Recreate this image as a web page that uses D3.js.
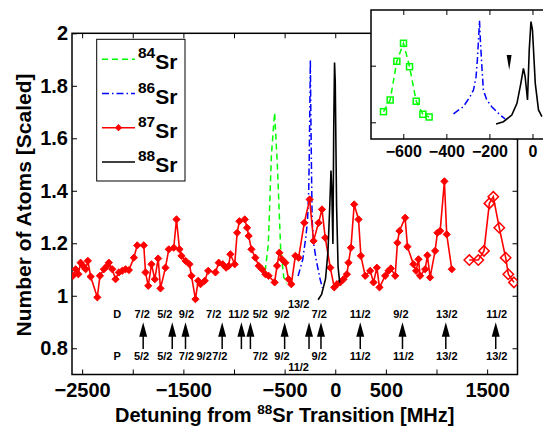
<!DOCTYPE html>
<html><head><meta charset="utf-8">
<script src="https://cdn.jsdelivr.net/npm/d3@7"></script>
<style>
body{margin:0;background:#fff}
text{font-family:"Liberation Sans",Arial,Helvetica,sans-serif;font-weight:bold;fill:#000}
</style>
</head><body>
<svg id="c" width="543" height="433"></svg>
<script>
// ---------- DATA ----------
// 87Sr (filled diamonds)
const sr87X = [-2591,-2564,-2537,-2515,-2492,-2465,-2443,-2416,-2350,-2324,-2285,-2252,-2236,-2202,-2170,-2137,-2104,-2071,-2038,-1989,-1956,-1891,-1874,-1847,-1815,-1782,-1749,-1726,-1677,-1644,-1595,-1568,-1538,-1519,-1479,-1440,-1420,-1381,-1354,-1331,-1289,-1255,-1183,-1151,-1111,-1078,-1052,-1036,-993,-969,-947,-894,-871,-855,-828,-789,-756,-723,-690,-658,-599,-575,-552,-526,-493,-461,-434,-394,-362,-306,-253,-214,-165,-131,-99,-49,-10,17,49,82,115,131,155,187,230,253,296,345,378,411,437,493,526,549,592,614,634,690,713,772,799,822,838,888,910,937,986,1009,1036,1078,1101,1151];
const sr87Y = [1.076,1.101,1.082,1.126,1.114,1.101,1.133,1.073,0.994,1.076,1.101,1.114,1.126,1.101,1.063,1.089,1.095,1.101,1.098,1.145,1.192,1.192,1.089,1.038,1.120,1.063,1.142,1.028,1.107,1.177,1.183,1.291,1.177,1.152,1.133,1.120,1.076,0.987,1.057,1.044,1.057,1.095,1.089,1.126,1.120,1.107,1.114,1.158,1.120,1.240,1.284,1.291,1.259,1.228,1.177,1.145,1.114,1.101,1.082,1.076,1.051,1.114,1.164,1.139,1.126,1.063,1.044,1.152,1.145,1.278,1.367,1.209,1.278,1.329,1.221,1.107,1.032,1.044,1.051,1.063,1.082,1.126,1.183,1.348,1.291,1.152,1.076,1.095,1.051,1.107,1.032,1.076,1.095,1.104,1.076,1.202,1.247,1.297,1.187,1.120,1.095,1.139,1.076,1.101,1.154,1.070,1.171,1.240,1.247,1.436,1.234,1.101];
// 87Sr (open diamonds)
const sr87bX = [1324,1413,1469,1522,1561,1620,1683,1709,1765];
const sr87bY = [1.136,1.136,1.171,1.352,1.377,1.259,1.145,1.082,1.051];
// 84Sr
const sr84X = [-692,-661,-630,-599,-571,-540,-509,-480];
const sr84Y = [1.094,1.197,1.539,1.698,1.491,1.186,1.071,1.047];
// 86Sr
const sr86X = [-367,-321,-290,-274,-262,-256,-249,-246,-242,-235,-228,-212,-189,-150,-127];
const sr86Y = [1.075,1.138,1.226,1.285,1.403,1.550,1.786,1.898,1.727,1.491,1.285,1.197,1.138,1.064,1.030];
// 88Sr
const sr88X = [-169,-135,-96,-72,-54,-42,-34,-23,-15,-7,0,13,28,44];
const sr88Y = [0.985,1.005,1.064,1.168,1.344,1.477,1.403,1.197,1.639,1.889,1.815,1.344,1.109,1.050];
// inset marker (wedge)
const wedgeX = [-120,-97,-108];
const wedgeY = [1.595,1.595,1.462];

// axis ticks
const xTicks = [-2500,-2000,-1500,-1000,-500,0,500,1000,1500];
const xTickLabels = [-2500,-1500,-500,0,500,1500];
const yTicks = [0.8,1,1.2,1.4,1.6,1.8,2];
const insetXTicks = [-600,-400,-200,0];
const insetYTicks = [1,1.5];

// transitions (arrows) and labels
const arrowX = [-1897,-1610,-1479,-1117,-927,-838,-500,-259,-141,247,664,1092,1585];
const dLabels = ["7/2","5/2","9/2","7/2","11/2","5/2","9/2","7/2","11/2","9/2","13/2","11/2"];
const dLabelX = [-1906,-1683,-1469,-1200,-954,-740,-526,-158,247,648,1102,1595];
const pLabels = ["5/2","5/2","7/2","9/2","7/2","7/2","9/2","9/2","11/2","11/2","13/2","13/2"];
const pLabelX = [-1913,-1683,-1469,-1295,-1140,-740,-526,-158,247,674,1102,1595];
const dExtra = {label:"13/2", x:-362};
const pExtra = {label:"11/2", x:-362};
const rowLabelX = -2153;

const legendNames = ["84","86","87","88"];

// ---------- CHART ----------
const svg = d3.select("#c");
const L=72, R=517.5, T=33.3, B=374.5;
const x = d3.scaleLinear().domain([-2600,1800]).range([L,R]);
const y = d3.scaleLinear().domain([0.7,2]).range([B,T]);

const FS = 20;
const fmt = d3.format("~g");

function styleAxis(g, fs){
  g.select(".domain").remove();
  g.selectAll(".tick line").attr("stroke","#000").attr("stroke-width",1);
  g.selectAll(".tick text").attr("font-size",fs).attr("font-family",null).attr("fill","#000");
  g.attr("font-family",null).attr("font-size",null);
}
svg.append("g").attr("transform",`translate(0,${B})`)
  .call(d3.axisBottom(x).tickValues(xTicks).tickSize(-5).tickPadding(8)
     .tickFormat(v => xTickLabels.includes(v) ? fmt(v) : ""))
  .call(g=>styleAxis(g,FS));
svg.append("g").attr("transform",`translate(0,${T})`)
  .call(d3.axisTop(x).tickValues(xTicks).tickSize(-5).tickFormat(""))
  .call(g=>styleAxis(g,FS));
svg.append("g").attr("transform",`translate(${L},0)`)
  .call(d3.axisLeft(y).tickValues(yTicks).tickSize(-5).tickPadding(4).tickFormat(fmt))
  .call(g=>styleAxis(g,FS));
svg.append("g").attr("transform",`translate(${R},0)`)
  .call(d3.axisRight(y).tickValues(yTicks).tickSize(-5).tickFormat(""))
  .call(g=>styleAxis(g,FS));
svg.append("rect").attr("x",L).attr("y",T).attr("width",R-L).attr("height",B-T)
  .attr("fill","none").attr("stroke","#000").attr("stroke-width",1.5);

// titles
const xt = svg.append("text").attr("x",(L+R)/2-10).attr("y",422).attr("text-anchor","middle").attr("font-size",FS);
xt.append("tspan").text("Detuning from ");
xt.append("tspan").attr("font-size",13.5).attr("dy",-8).text("88");
xt.append("tspan").attr("dy",8).text("Sr Transition [MHz]");
svg.append("text").attr("transform","translate(31,205) rotate(-90)").attr("text-anchor","middle")
  .attr("font-size",FS+1).text("Number of Atoms [Scaled]");

// data
svg.append("clipPath").attr("id","mc").append("rect")
  .attr("x",L).attr("y",T).attr("width",R-L).attr("height",B-T);
const plot = svg.append("g").attr("clip-path","url(#mc)");
const line = d3.line().x(d=>x(d[0])).y(d=>y(d[1]));
const zip = (a,b)=>a.map((v,i)=>[v,b[i]]);
const diamond = r => `M0,${-r}L${r},0L0,${r}L${-r},0Z`;

plot.append("path").datum(zip(sr84X,sr84Y)).attr("d",line).attr("fill","none")
  .attr("stroke","#00ff00").attr("stroke-width",1.5).attr("stroke-dasharray","6,4");
plot.append("path").datum(zip(sr86X,sr86Y)).attr("d",line).attr("fill","none")
  .attr("stroke","#0000ff").attr("stroke-width",1.5).attr("stroke-dasharray","7,3,1.5,3");
const red = zip(sr87X,sr87Y);
plot.append("path").datum(red).attr("d",line).attr("fill","none").attr("stroke","#ff0000").attr("stroke-width",1.6);
plot.selectAll(".rd").data(red).join("path").attr("d",diamond(3.6))
  .attr("transform",d=>`translate(${x(d[0])},${y(d[1])})`).attr("fill","#ff0000").attr("stroke","#ff0000").attr("stroke-width",1);
const red2 = zip(sr87bX,sr87bY);
plot.append("path").datum(red2).attr("d",line).attr("fill","none").attr("stroke","#ff0000").attr("stroke-width",1.6);
plot.selectAll(".ro").data(red2).join("path").attr("d",diamond(5.2))
  .attr("transform",d=>`translate(${x(d[0])},${y(d[1])})`).attr("fill","none").attr("stroke","#ff0000").attr("stroke-width",1.5);
plot.append("path").datum(zip(sr88X,sr88Y)).attr("d",line).attr("fill","none")
  .attr("stroke","#000").attr("stroke-width",1.6);

// annotations
const aFS = 11;
const yD = 0.915, yP = 0.757, yDx = 0.952, yPx = 0.715;
const aTop = 0.899, aHead = 0.848, aBot = 0.797;
const ann = svg.append("g");
ann.selectAll(".dl").data(dLabels).join("text").attr("x",(d,i)=>x(dLabelX[i])).attr("y",y(yD))
  .attr("text-anchor","middle").attr("font-size",aFS).text(d=>d);
ann.selectAll(".pl").data(pLabels).join("text").attr("x",(d,i)=>x(pLabelX[i])).attr("y",y(yP))
  .attr("text-anchor","middle").attr("font-size",aFS).text(d=>d);
ann.append("text").attr("x",x(dExtra.x)).attr("y",y(yDx)).attr("text-anchor","middle").attr("font-size",aFS).text(dExtra.label);
ann.append("text").attr("x",x(pExtra.x)).attr("y",y(yPx)).attr("text-anchor","middle").attr("font-size",aFS).text(pExtra.label);
ann.append("text").attr("x",x(rowLabelX)).attr("y",y(yD)).attr("text-anchor","middle").attr("font-size",aFS).text("D");
ann.append("text").attr("x",x(rowLabelX)).attr("y",y(yP)).attr("text-anchor","middle").attr("font-size",aFS).text("P");
ann.selectAll(".as").data(arrowX).join("line").attr("x1",d=>x(d)).attr("x2",d=>x(d))
  .attr("y1",y(aBot)).attr("y2",y(aHead)).attr("stroke","#000").attr("stroke-width",1.5);
ann.selectAll(".ah").data(arrowX).join("path")
  .attr("d",d=>`M${x(d)},${y(aTop)}L${x(d)+4},${y(aHead)+1}L${x(d)-4},${y(aHead)+1}Z`).attr("fill","#000");

// legend
const lg = svg.append("g");
lg.append("rect").attr("x",96.7).attr("y",39.3).attr("width",88.3).attr("height",141.7)
  .attr("fill","#fff").attr("stroke","#000").attr("stroke-width",1);
const styles = [
  {c:"#00ff00",dash:"6,4"},{c:"#0000ff",dash:"7,3,1.5,3"},{c:"#ff0000",dash:null,m:true},{c:"#000",dash:null}];
legendNames.forEach((n,i)=>{
  const ly = 59.3 + i*34.2;
  lg.append("line").attr("x1",102).attr("x2",135).attr("y1",ly).attr("y2",ly)
    .attr("stroke",styles[i].c).attr("stroke-width",1.5).attr("stroke-dasharray",styles[i].dash);
  if(styles[i].m) lg.append("path").attr("d",diamond(3.6)).attr("transform",`translate(118.5,${ly})`).attr("fill","#ff0000");
  const t = lg.append("text").attr("x",138).attr("y",ly-1);
  t.append("tspan").attr("font-size",15.5).text(n);
  t.append("tspan").attr("font-size",21).attr("dy",11).text("Sr");
});

// inset
const IL=371, IR=554, IT=10, IB=139;
const ix = d3.scaleLinear().domain([-750,100]).range([IL,IR]);
const iy = d3.scaleLinear().domain([0.8525,1.992]).range([IB,IT]);
const ins = svg.append("g");
ins.append("rect").attr("x",IL).attr("y",IT).attr("width",IR-IL).attr("height",IB-IT).attr("fill","#fff");
ins.append("g").attr("transform",`translate(0,${IB})`)
  .call(d3.axisBottom(ix).tickValues(insetXTicks).tickSize(-5).tickPadding(7).tickFormat(fmt))
  .call(g=>styleAxis(g,16));
ins.append("g").attr("transform",`translate(0,${IT})`)
  .call(d3.axisTop(ix).tickValues(insetXTicks).tickSize(-5).tickFormat(""))
  .call(g=>styleAxis(g,16));
ins.append("g").attr("transform",`translate(${IL},0)`)
  .call(d3.axisLeft(iy).tickValues(insetYTicks).tickSize(-5).tickFormat(""))
  .call(g=>styleAxis(g,16));
ins.append("clipPath").attr("id","ic").append("rect").attr("x",IL).attr("y",IT).attr("width",IR-IL).attr("height",IB-IT);
const ip = ins.append("g").attr("clip-path","url(#ic)");
const iline = d3.line().x(d=>ix(d[0])).y(d=>iy(d[1]));
const g84 = zip(sr84X,sr84Y);
ip.append("path").datum(g84).attr("d",iline).attr("fill","none").attr("stroke","#00ff00").attr("stroke-width",1.5).attr("stroke-dasharray","6,4");
ip.selectAll(".sq").data(g84).join("rect").attr("x",d=>ix(d[0])-3).attr("y",d=>iy(d[1])-3)
  .attr("width",6).attr("height",6).attr("fill","none").attr("stroke","#00ff00").attr("stroke-width",1.5);
ip.append("path").datum(zip(sr86X,sr86Y)).attr("d",iline).attr("fill","none").attr("stroke","#0000ff").attr("stroke-width",1.5).attr("stroke-dasharray","7,3,1.5,3");
ip.append("path").datum(zip(sr88X,sr88Y)).attr("d",iline).attr("fill","none").attr("stroke","#000").attr("stroke-width",1.6);
ip.append("path").datum(zip(wedgeX,wedgeY)).attr("d",d=>iline(d)+"Z").attr("fill","#000");
ins.append("rect").attr("x",IL).attr("y",IT).attr("width",IR-IL).attr("height",IB-IT)
  .attr("fill","none").attr("stroke","#000").attr("stroke-width",1.5);
</script>
</body></html>
